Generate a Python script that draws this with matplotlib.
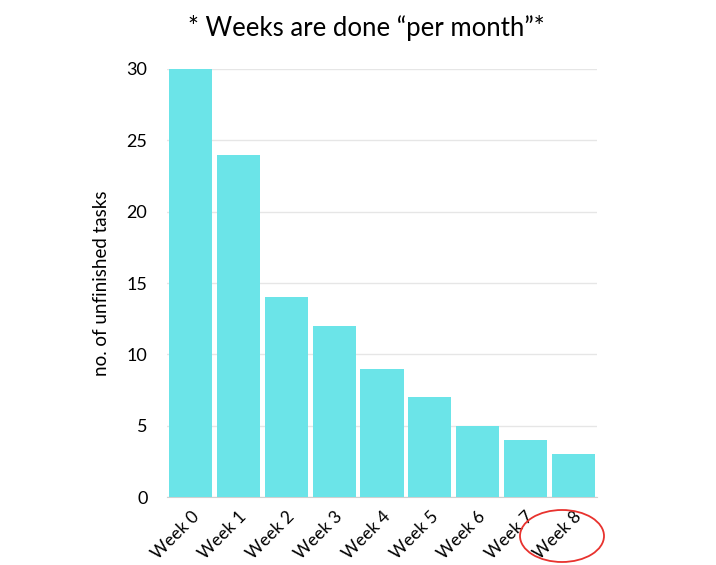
import matplotlib.pyplot as plt
from matplotlib.patches import Ellipse

weeks = ["Week 0", "Week 1", "Week 2", "Week 3", "Week 4",
         "Week 5", "Week 6", "Week 7", "Week 8"]
unfinished = [30, 24, 14, 12, 9, 7, 5, 4, 3]
yticks = [0, 5, 10, 15, 20, 25, 30]

plt.rcParams['font.family'] = ['Lato', 'DejaVu Sans']

fig = plt.figure(figsize=(7.16, 5.65), dpi=100)
ax = fig.add_axes([0.233, 0.12, 0.601, 0.758])

x = range(len(weeks))
ax.bar(x, unfinished, width=0.9, color='#6be4e8', zorder=3)
ax.set_xlim(-0.5, len(weeks) - 0.5)
ax.set_ylim(0, 30)
ax.set_yticks(yticks)
ax.set_xticks(list(x))
ax.set_xticklabels(weeks, rotation=45, ha='right', rotation_mode='anchor', fontsize=12.5)
ax.tick_params(axis='y', labelsize=13, length=0, pad=14)
ax.tick_params(axis='x', length=0, pad=8)
ax.grid(axis='y', color='#e6e6e6', linewidth=1, zorder=0)
for s in ['top', 'right', 'left']:
    ax.spines[s].set_visible(False)
ax.spines['bottom'].set_color('#d0d0d0')
ax.set_ylabel("no. of unfinished tasks", fontsize=13.5, labelpad=12)
fig.text(0.512, 0.95, "* Weeks are done \u201cper month\u201d*", ha='center', va='center', fontsize=18.5)

# red circle around the last label
circ = Ellipse((562 / 716, 1 - 536 / 565), 84 / 716, 52 / 565,
               transform=fig.transFigure, fill=False, edgecolor='#e8322e', linewidth=1.3)
fig.patches.append(circ)

plt.savefig("out.png", dpi=100)
